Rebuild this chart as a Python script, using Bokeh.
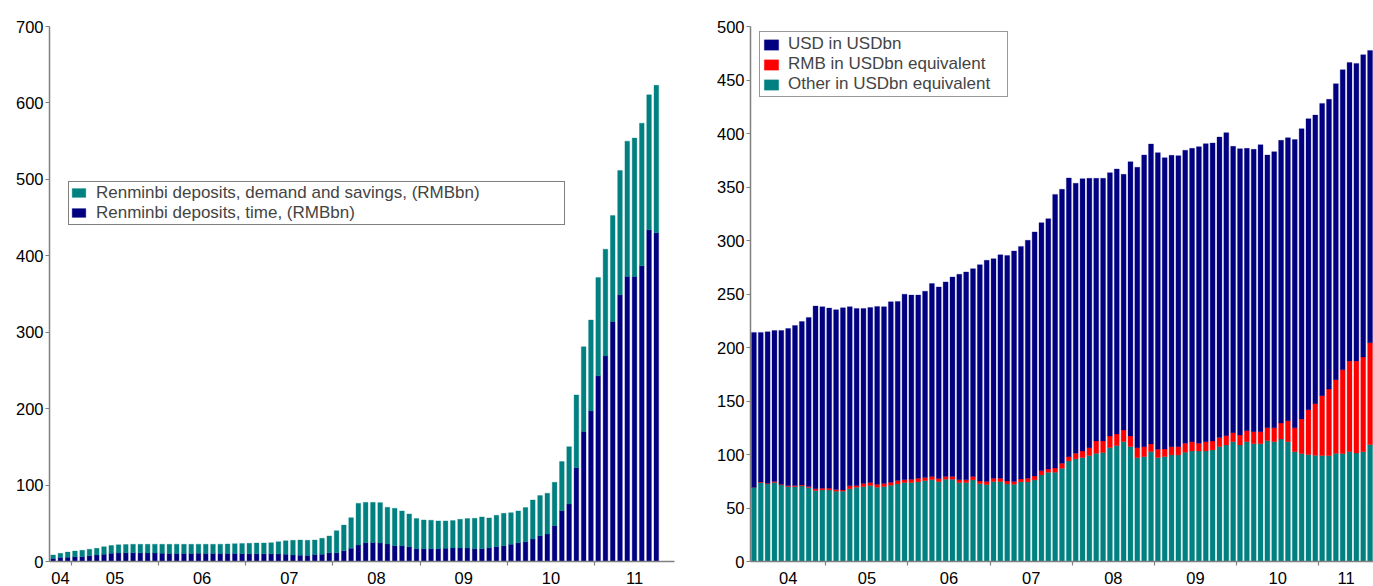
import pandas as pd
from bokeh.plotting import figure
from bokeh.models import (ColumnDataSource, FixedTicker, Legend, LegendItem,
                          CustomJSTickFormatter, Range1d, SingleIntervalTicker)
from bokeh.layouts import row
from bokeh.embed import file_html
from bokeh.resources import INLINE

# ---------------- data: left chart (RMBbn), Oct 2004 - Nov 2011 ----------------
left_months = pd.period_range("2004-10", "2011-11", freq="M").strftime("%Y-%m").tolist()
left_time = [
    3.8, 5.2, 5.4,
    6.3, 6.3, 7.6, 8.5, 9.6, 10.7, 11.1, 11.5, 11.5, 11.3, 11.1, 11.1,
    10.7, 10.5, 10.5, 10.5, 10.5, 10.7, 10.5, 10.5, 10.5, 10.5, 10.5, 10.3,
    10.1, 10.1, 10.1, 10.1, 9.8, 9.6, 8.5, 8.3, 7.9, 9.2, 9.6, 11.5,
    11.5, 14.1, 17.2, 21.5, 24.6, 25.0, 24.2, 22.9, 20.7, 20.7, 19.4, 16.8,
    16.8, 16.8, 16.8, 17.2, 17.7, 17.7, 17.7, 16.8, 16.8, 18.1, 19.4, 20.7,
    22.5, 24.6, 25.9, 29.4, 33.7, 35.9, 46.8, 66.5, 75.2, 122.8, 170.0, 197.0,
    243.0, 269.0, 314.0, 349.0, 373.0, 373.0, 387.0, 434.0, 430.0, 0.0, 0.0,
]
left_demand = [
    4.7, 5.5, 6.9,
    7.4, 8.3, 8.4, 8.7, 9.8, 10.2, 10.7, 10.7, 11.0, 11.2, 11.4, 11.5,
    11.8, 12.0, 12.1, 12.0, 12.0, 11.9, 12.0, 12.0, 12.1, 12.4, 12.8, 13.3,
    13.7, 14.1, 14.1, 14.5, 16.1, 17.4, 19.2, 19.8, 19.8, 18.9, 20.7, 21.9,
    28.8, 33.5, 40.2, 54.6, 52.8, 52.4, 52.8, 48.0, 48.9, 45.4, 42.8, 39.3,
    37.6, 37.2, 36.3, 35.9, 35.8, 37.5, 38.4, 39.7, 41.5, 38.9, 41.0, 42.3,
    41.4, 41.5, 44.6, 51.1, 52.5, 53.4, 56.8, 64.2, 75.1, 95.2, 111.0, 119.0,
    128.5, 139.6, 138.6, 162.6, 177.0, 181.0, 186.5, 176.6, 193.0, 0.0, 0.0,
]
left_labels = ["Renminbi deposits, demand and savings, (RMBbn)",
               "Renminbi deposits, time, (RMBbn)"]

# ---------------- data: right chart (USDbn), Feb 2004 - Aug 2011 ----------------
right_months = pd.period_range("2004-02", "2011-08", freq="M").strftime("%Y-%m").tolist()
right_other = [
    69.4, 73.8, 72.5, 73.8, 71.6, 70.0, 70.0, 70.7, 69.1, 66.3, 66.9,
    66.9, 65.7, 65.7, 67.9, 69.4, 70.0, 71.0, 69.4, 70.0, 71.3,
    72.5, 73.8, 73.8, 74.4, 75.6, 76.6, 74.7, 76.9, 76.9, 73.8,
    73.8, 76.3, 72.8, 71.9, 74.7, 74.7, 72.5, 72.2, 74.4, 74.4,
    76.3, 80.9, 83.4, 83.4, 87.1, 94.0, 95.9, 97.1, 99.0, 101.1,
    101.8, 106.4, 108.3, 112.0, 107.4, 97.1, 98.0, 102.7, 97.1, 98.0,
    99.6, 99.6, 102.1, 103.3, 103.3, 103.3, 104.3, 107.3, 108.9, 112.0,
    108.9, 112.0, 110.1, 110.1, 112.9, 112.0, 114.5, 112.0, 102.6, 100.8,
    99.9, 99.2, 98.9, 98.9, 101.1, 100.8, 102.6, 101.4, 102.6, 109.2,
]
right_rmb = [
    0.0, 0.6, 0.6, 0.9, 0.6, 0.7, 1.0, 0.9, 0.9, 1.6, 1.6,
    1.6, 1.5, 1.2, 2.8, 1.6, 2.8, 2.8, 2.8, 2.8, 2.8,
    3.1, 2.5, 3.1, 3.4, 2.8, 2.8, 2.8, 2.5, 2.5, 2.5,
    2.5, 3.1, 2.5, 2.8, 3.1, 3.1, 2.8, 2.5, 2.8, 3.4,
    3.7, 3.8, 3.1, 4.1, 4.7, 4.0, 5.2, 6.2, 7.4, 11.6,
    10.9, 10.9, 10.9, 10.9, 9.9, 9.3, 9.3, 7.2, 7.8, 7.2,
    7.7, 7.7, 8.4, 8.7, 7.2, 8.7, 8.3, 8.5, 8.7, 8.4,
    9.3, 10.2, 11.2, 11.2, 12.1, 13.0, 14.9, 19.6, 22.4, 32.3,
    42.0, 48.3, 56.1, 62.3, 68.8, 78.4, 84.7, 85.9, 88.5, 95.2,
]
right_usd = [
    144.7, 139.7, 141.6, 141.2, 143.7, 147.1, 149.6, 152.7, 158.1, 170.8, 169.6,
    168.3, 168.1, 170.2, 167.4, 165.5, 163.7, 163.6, 166.2, 165.3, 168.6,
    167.4, 173.5, 172.1, 171.2, 174.2, 180.3, 179.1, 181.9, 186.5, 192.1,
    194.3, 194.3, 202.1, 206.8, 205.2, 208.8, 210.7, 215.5, 217.3, 222.4,
    228.0, 232.0, 233.9, 255.6, 256.0, 260.4, 252.3, 254.5, 251.7, 245.4,
    245.4, 246.1, 247.6, 238.9, 256.3, 262.0, 272.6, 280.3, 277.2, 272.2,
    272.3, 272.0, 273.8, 274.1, 277.2, 278.5, 278.5, 280.9, 283.2, 267.6,
    267.6, 263.9, 263.9, 268.2, 254.9, 258.0, 264.2, 264.5, 269.3, 271.4,
    271.9, 269.7, 273.1, 270.7, 276.6, 280.4, 279.1, 278.2, 282.5, 273.2,
]
right_labels = ["USD in USDbn", "RMB in USDbn equivalent", "Other in USDbn equivalent"]

TEAL = "#008080"
NAVY = "#000080"
RED = "#FF0000"
AXIS = "#808080"
FONT = "Liberation Sans"


def month_x(months):
    # centre of each month in fractional years
    return [int(m[:4]) + (int(m[5:7]) - 0.5) / 12.0 for m in months]


def year_ticks(start, end):
    mids, bounds = [], []
    for y in range(int(start), int(end) + 1):
        lo, hi = max(y, start), min(y + 1, end)
        if hi > lo:
            mids.append((lo + hi) / 2.0)
        if start < y < end:
            bounds.append(float(y))
    return mids, bounds


def style(p, y_interval):
    p.xgrid.visible = False
    p.ygrid.visible = False
    p.outline_line_color = None
    p.background_fill_color = "white"
    p.border_fill_color = "white"
    for ax in (p.xaxis[0], p.yaxis[0]):
        ax.axis_line_color = AXIS
        ax.axis_line_width = 1.5
        ax.major_label_text_font = FONT
        ax.major_label_text_font_size = "16.5px"
        ax.major_label_text_color = "black"
        ax.major_tick_line_color = AXIS
        ax.minor_tick_line_color = AXIS
        ax.major_tick_line_width = 1.2
        ax.minor_tick_line_width = 1.2
    yax = p.yaxis[0]
    yax.ticker = SingleIntervalTicker(interval=y_interval)
    yax.major_tick_out = 4
    yax.major_tick_in = 0
    yax.minor_tick_out = 0
    yax.minor_tick_in = 0
    yax.major_label_standoff = 2
    xax = p.xaxis[0]
    xr = p.x_range
    mids, bounds = year_ticks(xr.start, xr.end)
    xax.ticker = FixedTicker(ticks=mids, minor_ticks=bounds)
    xax.formatter = CustomJSTickFormatter(
        code="return String(Math.floor(tick + 1e-9) % 100).padStart(2, '0');")
    xax.major_tick_out = 0
    xax.major_tick_in = 0
    xax.minor_tick_out = 4
    xax.minor_tick_in = 0
    xax.major_label_standoff = 6


# ---------------- left figure ----------------
lx = month_x(left_months)
lstep = 1.0 / 12.0
lsrc = ColumnDataSource(dict(x=lx, time=left_time, demand=left_demand))
p1 = figure(width=700, height=586, output_backend="svg", toolbar_location=None,
            x_range=Range1d(lx[0] - lstep / 2, lx[-1] + lstep / 2),
            y_range=Range1d(0, 700),
            min_border_left=49, min_border_right=26, min_border_top=26,
            min_border_bottom=0)
lr = p1.vbar_stack(["time", "demand"], x="x", width=0.64 * lstep, source=lsrc,
                   fill_color=[NAVY, TEAL], line_color=[NAVY, TEAL],
                   line_alpha=0.35, line_width=1)
style(p1, 100)
leg1 = Legend(items=[LegendItem(label=left_labels[0], renderers=[lr[1]]),
                     LegendItem(label=left_labels[1], renderers=[lr[0]])],
              location=(19, 336.5), padding=1, spacing=0, margin=0,
              glyph_width=17, glyph_height=11, label_standoff=9,
              label_width=467, label_height=20,
              label_text_font=FONT, label_text_font_size="17px",
              border_line_color="black", border_line_width=1,
              background_fill_color="white", background_fill_alpha=1)
p1.add_layout(leg1)

# ---------------- right figure ----------------
rx = month_x(right_months)
rsrc = ColumnDataSource(dict(x=rx, other=right_other, rmb=right_rmb, usd=right_usd))
p2 = figure(width=673, height=586, output_backend="svg", toolbar_location=None,
            x_range=Range1d(rx[0] - lstep / 2, rx[-1] + lstep / 2),
            y_range=Range1d(0, 500),
            min_border_left=50, min_border_right=0, min_border_top=26,
            min_border_bottom=0)
rr = p2.vbar_stack(["other", "rmb", "usd"], x="x", width=0.72 * lstep, source=rsrc,
                   fill_color=[TEAL, RED, NAVY], line_color=[TEAL, RED, NAVY],
                   line_alpha=0.3, line_width=1)
style(p2, 50)
leg2 = Legend(items=[LegendItem(label=right_labels[0], renderers=[rr[2]]),
                     LegendItem(label=right_labels[1], renderers=[rr[1]]),
                     LegendItem(label=right_labels[2], renderers=[rr[0]])],
              location=(9, 463.7), padding=2, spacing=0, margin=0,
              glyph_width=18, glyph_height=13, label_standoff=8,
              label_width=217, label_height=20,
              label_text_font=FONT, label_text_font_size="17px",
              border_line_color="#333333", border_line_width=1.5,
              background_fill_color="white", background_fill_alpha=1)
p2.add_layout(leg2)

layout = row(p1, p2)
open("out.html", "w").write(file_html(layout, INLINE))
